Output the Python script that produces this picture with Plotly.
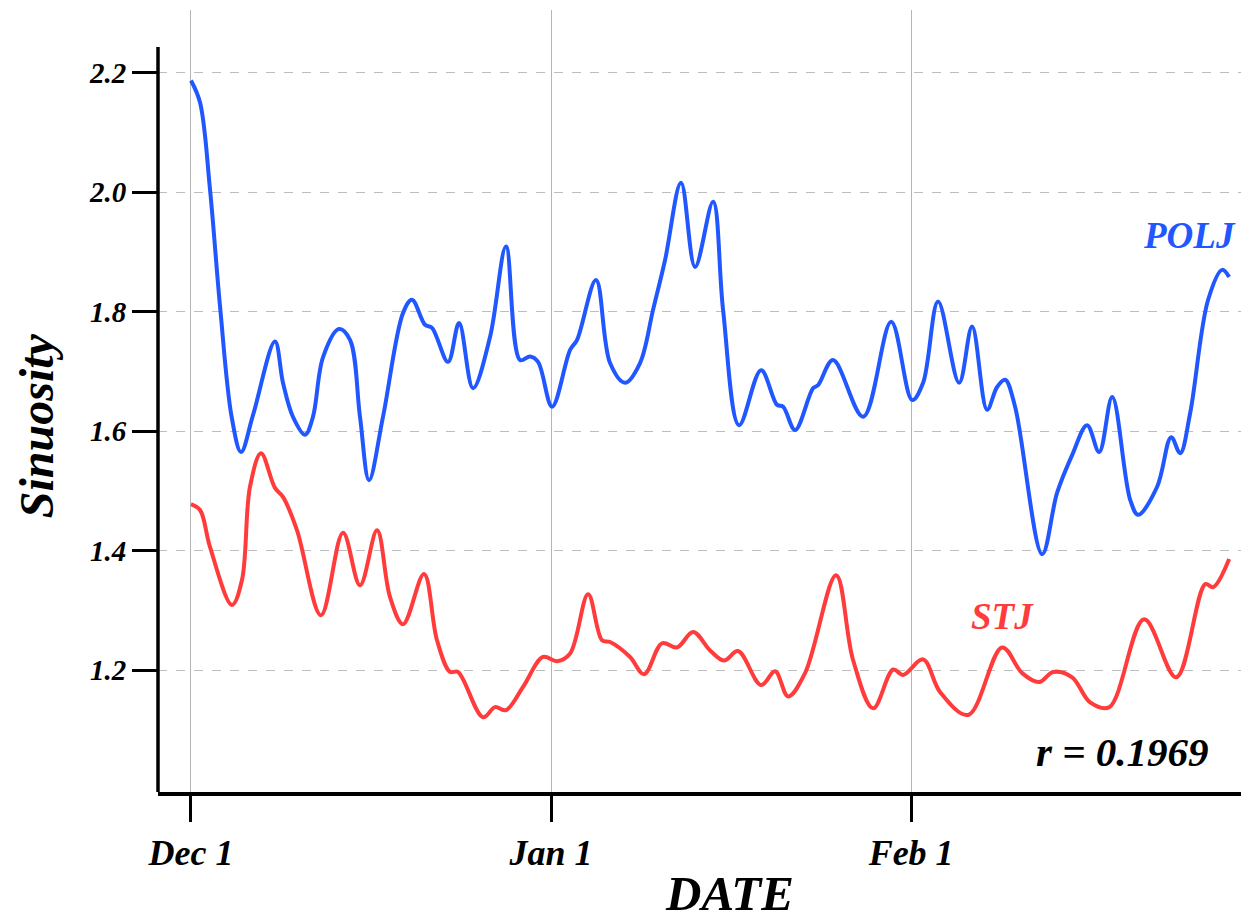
import pandas as pd
import plotly.graph_objects as go

# ---- data (days after 1 Dec, value) ----
polj_days = [0, 0.78, 1.64, 2.50, 3.50, 4.31, 5.34, 7.23, 7.92, 8.78, 9.82, 10.5, 11.37, 12.74,
             13.69, 14.55, 15.33, 16.53, 18.26, 19.03, 20.15, 20.75, 22.13, 23.08, 24.28, 25.75,
             27.12, 28.33, 29.19, 29.88, 31.09, 32.64, 33.24, 34.87, 36.08, 37.37, 38.66, 39.78,
             40.82, 42.19, 43.40, 44.95, 45.81, 47.19, 49.08, 50.46, 50.98, 52.01, 53.56, 53.99,
             55.28, 57.87, 60.28, 62.09, 63.03, 64.32, 66.13, 67.25, 68.54, 69.40, 70.09, 70.95,
             73.28, 74.57, 75.86, 77.15, 78.19, 79.31, 80.86, 81.55, 83.18, 84.39, 85.16, 86.02,
             87.57, 88.78, 89.38]
polj_vals = [2.187, 2.150, 2.004, 1.809, 1.624, 1.565, 1.627, 1.750, 1.681, 1.624, 1.594, 1.624,
             1.724, 1.771, 1.753, 1.624, 1.518, 1.624, 1.798, 1.820, 1.778, 1.773, 1.716, 1.781,
             1.672, 1.758, 1.909, 1.719, 1.725, 1.716, 1.641, 1.736, 1.753, 1.853, 1.714, 1.681,
             1.714, 1.803, 1.887, 2.016, 1.875, 1.984, 1.803, 1.610, 1.702, 1.644, 1.641, 1.602,
             1.672, 1.677, 1.719, 1.624, 1.783, 1.652, 1.681, 1.817, 1.681, 1.775, 1.636, 1.674,
             1.686, 1.641, 1.394, 1.497, 1.560, 1.610, 1.565, 1.657, 1.485, 1.460, 1.507, 1.590,
             1.563, 1.630, 1.820, 1.870, 1.858]

stj_days = [0, 0.78, 1.64, 3.53, 4.39, 5.08, 6.03, 7.23, 7.92, 9.13, 11.19, 13.09, 14.55, 16.02,
            17.14, 18.26, 20.06, 21.18, 22.30, 22.99, 25.14, 26.18, 27.12, 28.59, 30.31, 31.52,
            32.64, 34.19, 35.39, 36.08, 37.80, 39.01, 40.56, 41.85, 43.23, 44.69, 45.90, 47.10,
            49.08, 50.29, 51.41, 52.87, 55.54, 57.00, 58.73, 60.45, 61.31, 63.03, 64.50, 66.91,
            69.84, 71.56, 73.02, 74.23, 75.86, 77.41, 79.05, 82.06, 84.82, 87.32, 88.01, 89.38]
stj_vals = [1.478, 1.468, 1.406, 1.309, 1.351, 1.507, 1.563, 1.505, 1.490, 1.434, 1.292, 1.430,
            1.342, 1.434, 1.322, 1.277, 1.361, 1.250, 1.197, 1.197, 1.121, 1.138, 1.133, 1.172,
            1.222, 1.215, 1.228, 1.327, 1.250, 1.247, 1.222, 1.193, 1.245, 1.238, 1.264, 1.233,
            1.216, 1.232, 1.175, 1.198, 1.156, 1.195, 1.359, 1.217, 1.136, 1.201, 1.192, 1.218,
            1.163, 1.125, 1.238, 1.195, 1.180, 1.197, 1.188, 1.146, 1.138, 1.285, 1.188, 1.344,
            1.339, 1.386]

x_tick_dates = ["2018-12-01", "2019-01-01", "2019-02-01"]
x_tick_labels = ["Dec 1", "Jan 1", "Feb 1"]
y_tick_vals = [1.2, 1.4, 1.6, 1.8, 2.0, 2.2]
y_tick_labels = ["1.2", "1.4", "1.6", "1.8", "2.0", "2.2"]
r_text = "r = 0.1969"

base = pd.Timestamp("2018-12-01")
def to_dates(days):
    return base + pd.to_timedelta(days, unit="D")

BLUE = "#2157FF"
RED = "#FF3B3B"
FONT = "Liberation Serif"

fig = go.Figure()
fig.add_trace(go.Scatter(x=to_dates(polj_days), y=polj_vals, mode="lines",
                         line=dict(color=BLUE, width=4, shape="spline", smoothing=1.0),
                         showlegend=False, name="POLJ"))
fig.add_trace(go.Scatter(x=to_dates(stj_days), y=stj_vals, mode="lines",
                         line=dict(color=RED, width=4, shape="spline", smoothing=1.0),
                         showlegend=False, name="STJ"))

y_lo, y_hi, spine_top = 0.996, 2.305, 2.243

fig.update_layout(
    width=1251, height=924,
    margin=dict(l=158, r=10, t=10, b=132),
    plot_bgcolor="white", paper_bgcolor="white",
    font=dict(family=FONT, color="black"),
    xaxis=dict(
        range=[to_dates([-2.84])[0], to_dates([90.4])[0]],
        tickvals=pd.to_datetime(x_tick_dates), ticktext=x_tick_labels,
        showline=True, linecolor="black", linewidth=3.5,
        ticks="outside", ticklen=26, tickwidth=3, tickcolor="black",
        showgrid=True, gridcolor="#b5b5b5", gridwidth=1,
        tickfont=dict(family=FONT, size=36, weight="bold", style="italic"),
        zeroline=False,
    ),
    yaxis=dict(
        range=[y_lo, y_hi],
        tickvals=y_tick_vals, ticktext=y_tick_labels,
        showline=False,
        ticks="outside", ticklen=25, tickwidth=3, tickcolor="black",
        showgrid=True, gridcolor="#bdbdbd", gridwidth=1.2, griddash="dash",
        tickfont=dict(family=FONT, size=29, weight="bold", style="italic"),
        zeroline=False,
    ),
)

# left spine (bounded)
fig.add_shape(type="line", xref="paper", yref="y", x0=0, x1=0, y0=y_lo, y1=spine_top,
              line=dict(color="black", width=3.5))

# axis titles
fig.add_annotation(xref="paper", yref="paper", x=0.528, y=-0.1665, text="DATE", showarrow=False,
                   xanchor="center", yanchor="bottom", borderpad=0,
                   font=dict(family=FONT, size=49, weight="bold", style="italic"))
fig.add_annotation(xref="paper", yref="paper", x=-0.1127, y=0.469, text="Sinuosity",
                   showarrow=False, textangle=-90, xanchor="center", yanchor="middle",
                   font=dict(family=FONT, size=48, weight="bold", style="italic"))

fig.add_annotation(x=to_dates([86.0])[0], y=1.928, text="POLJ", showarrow=False,
                   font=dict(family=FONT, size=37, color=BLUE, weight="bold", style="italic"))
fig.add_annotation(x=to_dates([69.9])[0], y=1.289, text="STJ", showarrow=False,
                   font=dict(family=FONT, size=37, color=RED, weight="bold", style="italic"))
fig.add_annotation(x=to_dates([80.2])[0], y=1.063, text=r_text, showarrow=False,
                   font=dict(family=FONT, size=41, color="black", weight="bold", style="italic"))

fig.write_html("out.html")
